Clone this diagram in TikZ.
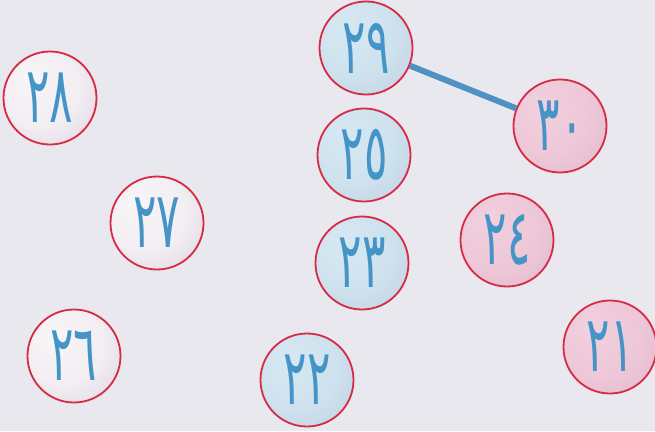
\documentclass[tikz,border=0pt]{standalone}
\usepackage{fontspec}
\usepackage{graphicx}
\newfontfamily\arabicfont[Script=Arabic]{DejaVu Sans}
\definecolor{bgc}{HTML}{E8E8EE}
\definecolor{rimred}{HTML}{D62A45}
\definecolor{digitblue}{HTML}{4494C8}
\definecolor{linkblue}{HTML}{4E91C2}
\pgfdeclareradialshading{ballblue}{\pgfpoint{-12bp}{12bp}}{color(0bp)=(rgb,255:red,214;green,232;blue,242); color(22bp)=(rgb,255:red,206;green,226;blue,238); color(40bp)=(rgb,255:red,194;green,206;blue,226); color(50bp)=(rgb,255:red,160;green,145;blue,185)}
\pgfdeclareradialshading{ballpink}{\pgfpoint{-12bp}{12bp}}{color(0bp)=(rgb,255:red,242;green,208;blue,222); color(22bp)=(rgb,255:red,238;green,200;blue,216); color(40bp)=(rgb,255:red,224;green,182;blue,206); color(50bp)=(rgb,255:red,180;green,140;blue,178)}
\pgfdeclareradialshading{ballwhite}{\pgfpoint{-12bp}{12bp}}{color(0bp)=(rgb,255:red,248;green,245;blue,248); color(22bp)=(rgb,255:red,242;green,238;blue,242); color(40bp)=(rgb,255:red,222;green,212;blue,228); color(50bp)=(rgb,255:red,170;green,148;blue,182)}
\newcommand{\tallnum}[1]{\scalebox{0.95}[1.7]{#1}}
\tikzset{
  numball/.style={circle, minimum size=93pt, inner sep=0pt, draw=rimred, line width=1.8pt,
    shading=#1, text=digitblue, font=\arabicfont\fontsize{46}{46}\selectfont},
  link/.style={draw=linkblue, line width=6pt}
}
\begin{document}
\begin{tikzpicture}[x=1pt,y=-1pt]
\fill[bgc] (0,0) rectangle (655,431);
\useasboundingbox (0,0) rectangle (655,431);
\node[numball=ballblue]  (n29) at (366,48)  {\tallnum{٢٩}};
\node[numball=ballblue]  (n25) at (364,155) {\tallnum{٢٥}};
\node[numball=ballblue]  (n23) at (362,263) {\tallnum{٢٣}};
\node[numball=ballblue]  (n22) at (307,380) {\tallnum{٢٢}};
\node[numball=ballpink]  (n30) at (560,126) {\tallnum{٣٠}};
\node[numball=ballpink]  (n24) at (507,240) {\tallnum{٢٤}};
\node[numball=ballpink]  (n21) at (610,347) {\tallnum{٢١}};
\node[numball=ballwhite] (n28) at (50,98)   {\tallnum{٢٨}};
\node[numball=ballwhite] (n27) at (157,223) {\tallnum{٢٧}};
\node[numball=ballwhite] (n26) at (74,356)  {\tallnum{٢٦}};
\path[link] (n29) -- (n30);
\end{tikzpicture}
\end{document}
